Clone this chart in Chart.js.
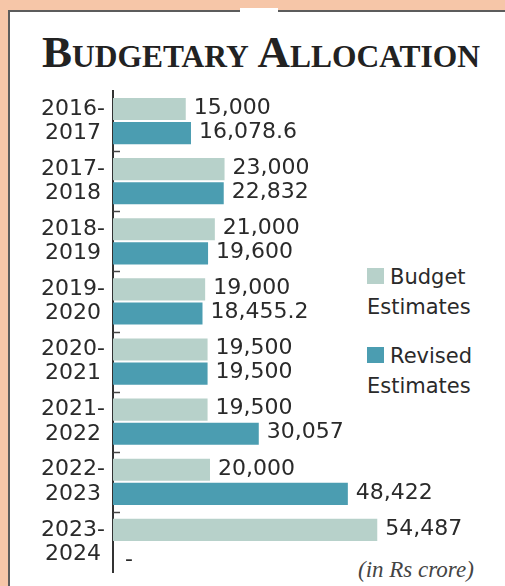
<!DOCTYPE html>
<html>
<head>
<meta charset="utf-8">
<script src="https://cdn.jsdelivr.net/npm/chart.js@4.4.1/dist/chart.umd.min.js"></script>
<style>
  html, body { margin: 0; padding: 0; }
  body {
    width: 505px; height: 586px; position: relative; overflow: hidden;
    background: #f6c6a8;
    font-family: "DejaVu Sans", sans-serif; color: #2a2a2a;
  }
  #panel {
    position: absolute; left: 8px; top: 10px; right: 0; bottom: 0;
    background: #fff;
    border-left: 2px solid #5c5c5c; border-top: 2px solid #5c5c5c;
  }
  #gap { position: absolute; left: 240px; top: 8px; width: 38px; height: 6px; background: #fff; }
  #title {
    position: absolute; left: 42px; top: 30px;
    font-family: "Liberation Serif", serif; font-weight: bold;
    font-size: 45px; line-height: 45px; white-space: nowrap;
    color: #222; transform-origin: 0 0;
  }
  #title .sc { font-size: 31.5px; }
  .legend {
    position: absolute; left: 367px;
    font-size: 21px; line-height: 30px; white-space: nowrap; color: #2a2a2a;
  }
  .swatch { display: inline-block; width: 17px; height: 16px; margin-right: 6px; }
  #note {
    position: absolute; left: 358px; top: 558px;
    font-family: "Liberation Serif", serif; font-style: italic;
    font-size: 23px; line-height: 23px; white-space: nowrap; color: #444;
  }
  #chart { position: absolute; left: 0; top: 0; }
</style>
</head>
<body>
<div id="panel"></div>
<div id="gap"></div>
<div id="title">B<span class="sc">UDGETARY</span> A<span class="sc">LLOCATION</span></div>
<div class="legend" id="legBudget" style="top:262px"><span class="swatch"></span>Budget<br>Estimates</div>
<div class="legend" id="legRevised" style="top:341px"><span class="swatch"></span>Revised<br>Estimates</div>
<div id="note">(in Rs crore)</div>
<canvas id="chart" width="505" height="586"></canvas>
<script>
// Fiscal years (two-line labels)
const categories = [
  ["2016-", "2017"], ["2017-", "2018"], ["2018-", "2019"], ["2019-", "2020"],
  ["2020-", "2021"], ["2021-", "2022"], ["2022-", "2023"], ["2023-", "2024"]
];
// Allocation in Rs crore
const budgetEstimates  = [15000, 23000, 21000, 19000, 19500, 19500, 20000, 54487];
const revisedEstimates = [16078.6, 22832, 19600, 18455.2, 19500, 30057, 48422, null];
const seriesNames = ["Budget Estimates", "Revised Estimates"];

const budgetColor = "#b7d1ca";
const revisedColor = "#4b9db1";
const textColor = "#2a2a2a";

document.querySelector("#legBudget .swatch").style.background = budgetColor;
document.querySelector("#legRevised .swatch").style.background = revisedColor;

// stretch the title to its full line width
(function () {
  const t = document.getElementById("title");
  const w = t.getBoundingClientRect().width;
  t.style.transform = "scaleX(" + (438 / w) + ")";
})();

const fmt = v => v.toLocaleString("en-US", { maximumFractionDigits: 1 });

// short tick marks on the right side of the axis, between years
const boundaryTicks = {
  id: "boundaryTicks",
  afterDraw(chart) {
    const y = chart.scales.y, ctx = chart.ctx;
    const left = chart.chartArea.left;
    ctx.save();
    ctx.strokeStyle = "#444";
    ctx.lineWidth = 1.5;
    for (let i = 1; i < categories.length; i++) {
      const yy = Math.round((y.getPixelForValue(i - 1) + y.getPixelForValue(i)) / 2) + 0.5;
      ctx.beginPath();
      ctx.moveTo(left, yy);
      ctx.lineTo(left + 7, yy);
      ctx.stroke();
    }
    ctx.restore();
  }
};

// value labels at the end of each bar ("-" where no figure exists)
const valueLabels = {
  id: "valueLabels",
  afterDatasetsDraw(chart) {
    const ctx = chart.ctx, xs = chart.scales.x, ys = chart.scales.y;
    ctx.save();
    ctx.font = "22px 'DejaVu Sans'";
    ctx.fillStyle = textColor;
    ctx.textAlign = "left";
    ctx.textBaseline = "middle";
    chart.data.datasets.forEach((ds, di) => {
      const meta = chart.getDatasetMeta(di);
      // offset of this series' bars from the category centre
      const slot = meta.data[0].y - ys.getPixelForValue(0);
      meta.data.forEach((bar, i) => {
        const v = ds.data[i];
        if (v === null || v === undefined) {
          ctx.fillText("-", xs.getPixelForValue(0) + 12, ys.getPixelForValue(i) + slot + 6);
        } else {
          ctx.fillText(fmt(v), bar.x + 8, bar.y - 1);
        }
      });
    });
    ctx.restore();
  }
};

new Chart(document.getElementById("chart"), {
  type: "bar",
  data: {
    labels: categories,
    datasets: [
      { label: seriesNames[0], data: budgetEstimates, backgroundColor: budgetColor, borderWidth: 0,
        categoryPercentage: 0.8, barPercentage: 0.92 },
      { label: seriesNames[1], data: revisedEstimates, backgroundColor: revisedColor, borderWidth: 0,
        categoryPercentage: 0.8, barPercentage: 0.92 }
    ]
  },
  options: {
    indexAxis: "y",
    responsive: false,
    animation: false,
    layout: { padding: { top: 91, bottom: 14, left: 0, right: 101 } },
    plugins: { legend: { display: false }, tooltip: { enabled: false } },
    scales: {
      x: { display: false, min: 0, max: 60000 },
      y: {
        position: "left",
        grid: { display: false, drawTicks: false },
        border: { display: true, color: "#333", width: 2 },
        ticks: {
          color: textColor,
          font: { family: "DejaVu Sans", size: 22, lineHeight: 1.1 },
          crossAlign: "center",
          padding: 8
        },
        afterFit(scale) {
          scale.width = 113;
          scale.paddingTop = 0;
          scale.paddingBottom = 0;
        }
      }
    }
  },
  plugins: [boundaryTicks, valueLabels]
});
</script>
</body>
</html>
